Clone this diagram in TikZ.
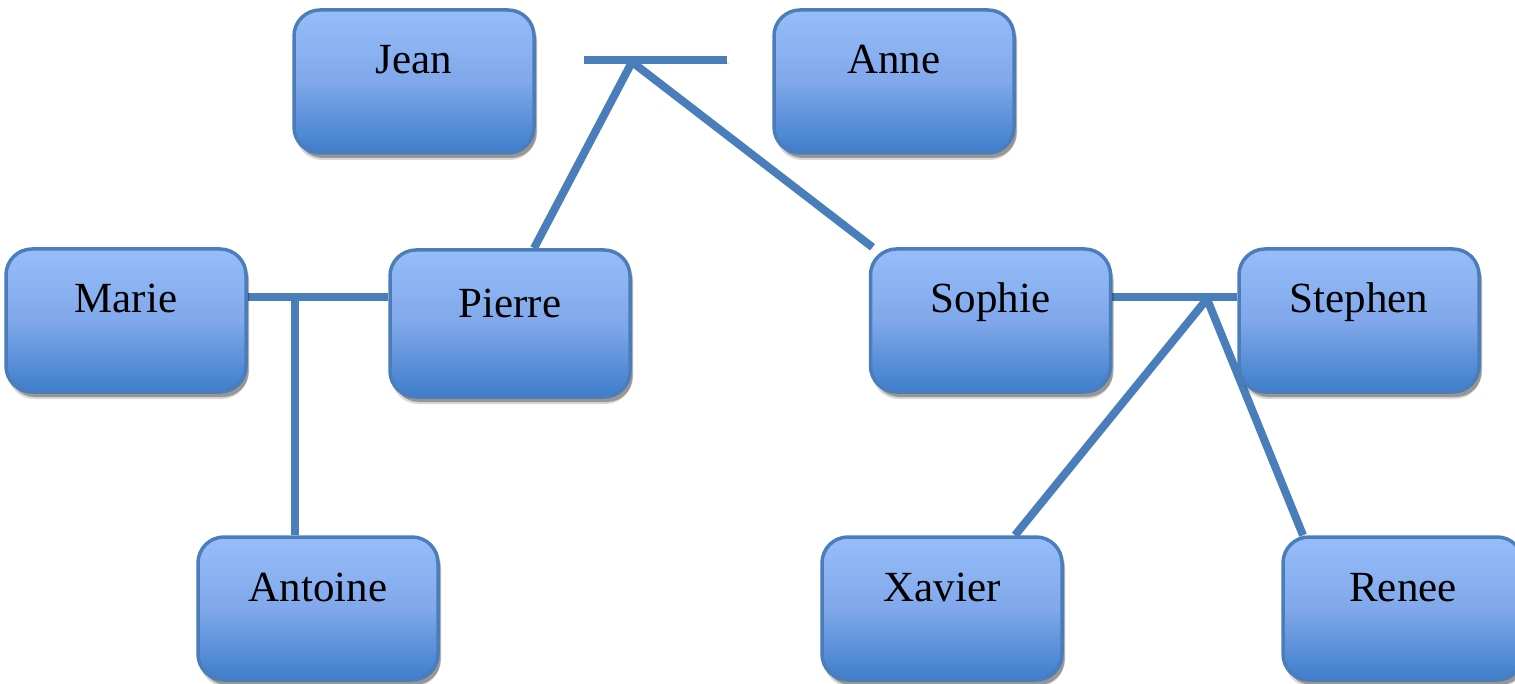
\documentclass[tikz,border=0pt]{standalone}
\usepackage{fontspec}
\setmainfont{Liberation Serif}
\usetikzlibrary{shadows,backgrounds}
\definecolor{lineblue}{HTML}{4A7EBB}
\definecolor{boxtop}{HTML}{97BDF9}
\definecolor{boxmid}{HTML}{80A8EA}
\definecolor{boxbot}{HTML}{3E7DCB}
\tikzset{
  person/.style={draw=lineblue, line width=3.5pt, rounded corners=26pt,
    top color=boxtop, bottom color=boxbot, middle color=boxmid,
    minimum width=240pt, inner xsep=0pt, inner ysep=0pt,
    text height=64pt, text depth=79pt,
    font=\fontsize{43}{50}\selectfont,
    general shadow={shadow xshift=2pt, shadow yshift=-7pt, opacity=0.15, fill=black},
    general shadow={shadow xshift=3pt, shadow yshift=-5pt, opacity=0.3, fill=black}},
  tall/.style={text height=68pt},
  link/.style={draw=lineblue, line width=8pt,
    preaction={draw=black, draw opacity=0.15, transform canvas={xshift=2pt,yshift=-3pt}}},
}
\begin{document}
\begin{tikzpicture}[x=1pt,y=-1pt]
\useasboundingbox (0,0) rectangle (1515,684);
\node[person] (Jean) at (414,81.5) {Jean};
\node[person] (Anne) at (894,81.5) {Anne};
\node[person] (Marie) at (126,320.5) {Marie};
\node[person,tall] (Pierre) at (510,323.5) {Pierre};
\node[person] (Sophie) at (990.5,320.5) {Sophie};
\node[person] (Stephen) at (1359,320.5) {Stephen};
\node[person] (Antoine) at (318,608.5) {Antoine};
\node[person] (Xavier) at (942,608.5) {Xavier};
\node[person] (Renee) at (1403,608.5) {Renee};
\coordinate (jaL) at (584,60);
\coordinate (jaR) at (727,60);
\coordinate (jaC) at (632,62);
\coordinate (mpC) at (295,297);
\coordinate (ssC) at (1207,299);
\begin{scope}[on background layer]
\draw[link] (jaL) -- (jaR);
\draw[link] (jaC) -- ([xshift=24pt]Pierre.north);
\draw[link] (jaC) -- ([xshift=-118pt]Sophie.north);
\draw[link] ([yshift=23.5pt]Marie.east) -- ([yshift=26.5pt]Pierre.west);
\draw[link] (mpC) -- ([xshift=-23pt]Antoine.north);
\draw[link] ([yshift=23.5pt]Sophie.east) -- ([yshift=23.5pt]Stephen.west);
\draw[link] (ssC) -- ([xshift=73pt]Xavier.north);
\draw[link] (ssC) -- ([xshift=-100pt]Renee.north);
\end{scope}
\end{tikzpicture}
\end{document}
